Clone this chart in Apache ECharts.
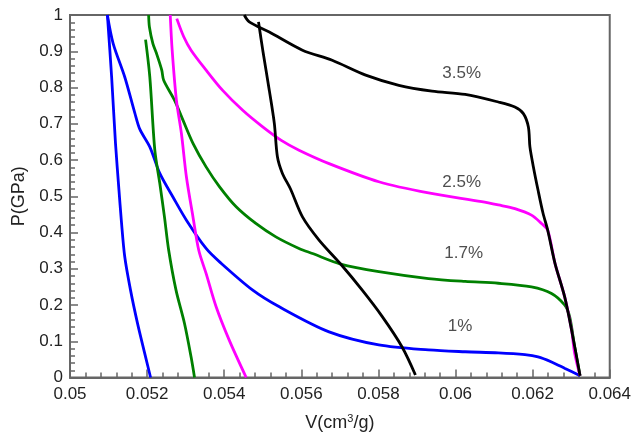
<!DOCTYPE html>
<html>
<head>
<meta charset="utf-8">
<script src="https://cdn.jsdelivr.net/npm/echarts@6/dist/echarts.min.js"></script>
<style>
  html, body { margin: 0; padding: 0; background: #fff; }
  #chart { width: 634px; height: 440px; }
</style>
</head>
<body>
<div id="chart"></div>
<script>
// [V, P] points
// "Up" = from the open end (right) towards P = 1, "Down" = the steep branch on the left
var blueUp = [[0.06323,0.005],[0.06284,0.025],[0.06249,0.043],[0.06214,0.057],[0.06180,0.063],[0.06111,0.068],[0.06025,0.071],[0.05930,0.076],[0.05801,0.090],[0.05672,0.126],[0.05543,0.195],[0.05474,0.241],[0.05388,0.319],[0.05353,0.356],[0.05302,0.434],[0.05267,0.498],[0.05233,0.563],[0.05207,0.636],[0.05181,0.685],[0.05168,0.730],[0.05142,0.829],[0.05112,0.921],[0.05097,1.0]];
var blueDown = [[0.05097,1.0],[0.05108,0.829],[0.05118,0.646],[0.05127,0.517],[0.05133,0.435],[0.05142,0.333],[0.05157,0.241],[0.05175,0.150],[0.05196,0.057],[0.05209,0.0]];

var greenUp = [[0.06323,0.005],[0.06309,0.085],[0.06296,0.168],[0.06283,0.200],[0.06249,0.232],[0.06197,0.250],[0.06111,0.260],[0.06025,0.265],[0.05930,0.273],[0.05801,0.292],[0.05702,0.313],[0.05629,0.342],[0.05594,0.356],[0.05534,0.388],[0.05482,0.425],[0.05431,0.471],[0.05388,0.526],[0.05353,0.581],[0.05319,0.646],[0.05293,0.710],[0.05271,0.765],[0.05243,0.820],[0.05238,0.848],[0.05224,0.895],[0.05215,0.921],[0.05206,0.967],[0.05204,1.0]];
var greenDown = [[0.05196,0.932],[0.05207,0.829],[0.05220,0.627],[0.05233,0.535],[0.05245,0.443],[0.05256,0.351],[0.05275,0.241],[0.05297,0.149],[0.05314,0.057],[0.05323,0.0]];

var magentaUp = [[0.06323,0.005],[0.06309,0.067],[0.06301,0.131],[0.06283,0.223],[0.06258,0.315],[0.06239,0.407],[0.06223,0.425],[0.06197,0.448],[0.06154,0.466],[0.06111,0.476],[0.06068,0.485],[0.05930,0.509],[0.05801,0.540],[0.05672,0.590],[0.05594,0.627],[0.05548,0.654],[0.05499,0.692],[0.05448,0.737],[0.05396,0.792],[0.05353,0.848],[0.05314,0.903],[0.05295,0.940],[0.05277,0.990]];
var magentaDown = [[0.05260,1.0],[0.05265,0.903],[0.05276,0.765],[0.05289,0.673],[0.05302,0.553],[0.05319,0.443],[0.05334,0.351],[0.05353,0.287],[0.05379,0.195],[0.05413,0.103],[0.05457,0.0]];

var blackUp = [[0.06323,0.005],[0.06301,0.131],[0.06283,0.223],[0.06258,0.315],[0.06239,0.407],[0.06227,0.453],[0.06214,0.517],[0.06202,0.581],[0.06193,0.636],[0.06189,0.691],[0.06176,0.728],[0.06154,0.746],[0.06111,0.760],[0.06025,0.781],[0.05939,0.790],[0.05853,0.806],[0.05767,0.834],[0.05680,0.875],[0.05603,0.903],[0.05517,0.953],[0.05465,0.981],[0.05452,1.0]];
var blackDown = [[0.05489,0.981],[0.05500,0.903],[0.05517,0.792],[0.05530,0.701],[0.05538,0.609],[0.05551,0.563],[0.05572,0.520],[0.05603,0.443],[0.05646,0.379],[0.05702,0.313],[0.05758,0.241],[0.05810,0.168],[0.05861,0.085],[0.05896,0.007]];

// curve labels
var tagText = ['3.5%', '2.5%', '1.7%', '1%'];
var tagV = [0.06016, 0.06016, 0.06021, 0.06012];
var tagP = [0.839, 0.539, 0.343, 0.140];

var FONT = 'Liberation Sans, Arial, sans-serif';
var AXIS = '#666';

function fmt(v) { return String(parseFloat(v.toFixed(4))); }

function curve(data, color) {
  return {
    type: 'line',
    data: data,
    showSymbol: false,
    smooth: 0.3,
    lineStyle: { color: color, width: 2.8 },
    silent: true
  };
}

var chart = echarts.init(document.getElementById('chart'));

var tags = tagText.map(function (t, i) { return [tagV[i], tagP[i], t]; });

chart.setOption({
  animation: false,
  grid: {
    left: 70, right: 22, top: 15, bottom: 62.5,
    show: true, borderColor: AXIS, borderWidth: 2
  },
  xAxis: {
    type: 'value', min: 0.05, max: 0.064, interval: 0.002,
    name: 'V(cm{sup|3}/g)', nameLocation: 'middle', nameGap: 36,
    nameTextStyle: {
      fontFamily: FONT, fontSize: 18, color: '#222',
      rich: { sup: { fontFamily: FONT, fontSize: 11, color: '#222', padding: [0, 0, 9, 0] } }
    },
    axisLine: { lineStyle: { color: AXIS, width: 2 } },
    axisTick: { inside: true, length: 8, lineStyle: { color: AXIS, width: 1.5 } },
    minorTick: { show: true, splitNumber: 5, length: 5, lineStyle: { color: AXIS, width: 1.5 } },
    splitLine: { show: false },
    axisLabel: { formatter: fmt, fontFamily: FONT, fontSize: 17, color: '#222', margin: 8 }
  },
  yAxis: {
    type: 'value', min: 0, max: 1, interval: 0.1,
    name: 'P(GPa)', nameLocation: 'middle', nameGap: 42, nameRotate: 90,
    nameMoveOverlap: false,
    nameTextStyle: { fontFamily: FONT, fontSize: 18, color: '#222' },
    axisLine: { lineStyle: { color: AXIS, width: 2 } },
    axisTick: { inside: true, length: 8, lineStyle: { color: AXIS, width: 1.5 } },
    minorTick: { show: true, splitNumber: 5, length: 5, lineStyle: { color: AXIS, width: 1.5 } },
    splitLine: { show: false },
    axisLabel: { formatter: fmt, fontFamily: FONT, fontSize: 17, color: '#222', margin: 7 }
  },
  series: [
    curve(blueUp, '#0000ff'), curve(blueDown, '#0000ff'),
    curve(greenUp, '#008000'), curve(greenDown, '#008000'),
    curve(magentaUp, '#ff00ff'), curve(magentaDown, '#ff00ff'),
    curve(blackUp, '#000000'), curve(blackDown, '#000000'),
    {
      type: 'scatter',
      data: tags,
      symbolSize: 0,
      silent: true,
      label: {
        show: true, position: 'inside',
        formatter: function (p) { return p.data[2]; },
        fontFamily: FONT, fontSize: 17, color: '#222'
      }
    }
  ]
});
</script>
</body>
</html>
